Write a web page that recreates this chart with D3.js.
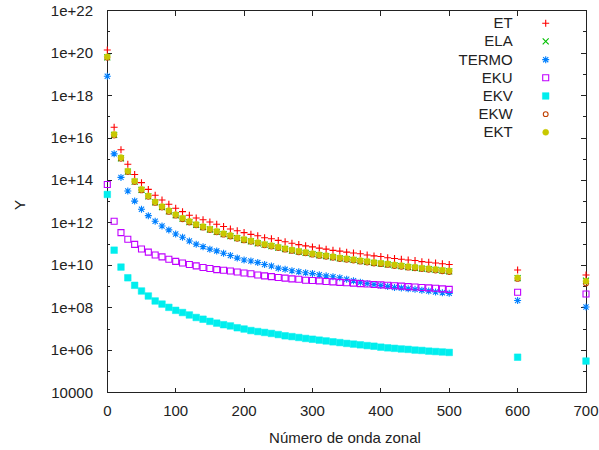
<!DOCTYPE html>
<html><head><meta charset="utf-8">
<script src="https://cdn.jsdelivr.net/npm/d3@7"></script>
<style>body{margin:0;background:#fff} text{font-family:"Liberation Sans",Arial,sans-serif;font-size:15px;fill:#222}</style>
</head><body><svg id="c" width="599" height="450"></svg>
<script>
const xValues = [0,10,20,30,40,50,60,70,80,90,100,110,120,130,140,150,160,170,180,190,200,210,220,230,240,250,260,270,280,290,300,310,320,330,340,350,360,370,380,390,400,410,420,430,440,450,460,470,480,490,500,600,700];

const ET = [1.4e20,3.2e16,2.8e15,5.8e14,1.9e14,7.9e13,3.8e13,2.0e13,1.2e13,7.6e12,4.9e12,3.4e12,2.3e12,1.7e12,1.4e12,1.1e12,8.7e11,6.8e11,5.2e11,4.3e11,3.5e11,2.9e11,2.5e11,2.0e11,1.8e11,1.5e11,1.3e11,1.1e11,9.5e10,8.3e10,7.4e10,6.5e10,5.8e10,5.1e10,4.7e10,4.2e10,3.8e10,3.5e10,3.1e10,2.8e10,2.6e10,2.3e10,2.1e10,1.95e10,1.8e10,1.7e10,1.5e10,1.4e10,1.3e10,1.2e10,1.1e10,6.0e9,3.5e9];
const ELA = [6.3e19,1.4e16,1.1e15,2.6e14,8.9e13,3.6e13,1.8e13,9.3e12,5.6e12,3.5e12,2.3e12,1.6e12,1.1e12,8.1e11,6.3e11,4.9e11,3.8e11,3.0e11,2.4e11,1.9e11,1.6e11,1.35e11,1.1e11,9.5e10,8.1e10,6.9e10,5.9e10,5.0e10,4.4e10,3.9e10,3.4e10,3.0e10,2.7e10,2.4e10,2.15e10,1.95e10,1.8e10,1.6e10,1.45e10,1.3e10,1.2e10,1.1e10,1.0e10,9.1e9,8.3e9,7.7e9,7.1e9,6.6e9,6.1e9,5.6e9,5.2e9,2.5e9,1.9e9];
const TERMO = [8.1e18,1.8e15,1.4e14,3.2e13,1.07e13,4.4e12,2.2e12,1.2e12,7.2e11,4.7e11,3.0e11,2.1e11,1.4e11,1.0e11,7.6e10,5.8e10,4.8e10,3.7e10,2.9e10,2.2e10,1.8e10,1.6e10,1.35e10,1.1e10,9.3e9,7.4e9,6.5e9,5.6e9,5.0e9,4.5e9,4.1e9,3.6e9,3.2e9,2.9e9,2.6e9,2.2e9,1.9e9,1.6e9,1.4e9,1.26e9,1.12e9,1.0e9,9.1e8,8.5e8,7.9e8,7.4e8,6.8e8,6.2e8,5.6e8,5.1e8,4.8e8,2.2e8,1.1e8];
const EKU = [6.5e13,1.2e12,3.5e11,1.7e11,9.8e10,5.9e10,4.2e10,3.1e10,2.5e10,1.95e10,1.55e10,1.3e10,1.1e10,9.5e9,7.9e9,7.1e9,6.3e9,5.9e9,5.4e9,4.9e9,4.4e9,4.0e9,3.5e9,3.2e9,2.95e9,2.7e9,2.5e9,2.3e9,2.2e9,2.0e9,1.95e9,1.86e9,1.74e9,1.66e9,1.58e9,1.51e9,1.45e9,1.38e9,1.32e9,1.26e9,1.2e9,1.15e9,1.1e9,1.05e9,1.0e9,9.5e8,9.1e8,8.7e8,8.3e8,7.8e8,7.4e8,5.4e8,4.5e8];
const EKV = [2.2e13,5.2e10,8.3e9,2.6e9,1.15e9,6.2e8,3.6e8,2.1e8,1.5e8,1.05e8,7.6e7,6.0e7,4.6e7,3.5e7,2.9e7,2.3e7,1.9e7,1.6e7,1.4e7,1.15e7,1.0e7,8.5e6,7.6e6,6.9e6,6.2e6,5.5e6,4.8e6,4.4e6,4.0e6,3.6e6,3.3e6,3.0e6,2.75e6,2.5e6,2.3e6,2.1e6,1.95e6,1.8e6,1.66e6,1.55e6,1.4e6,1.3e6,1.23e6,1.15e6,1.1e6,1.02e6,9.8e5,9.1e5,8.7e5,8.3e5,7.9e5,4.7e5,3.1e5];
const EKW = [6.0e19,1.3e16,1.05e15,2.5e14,8.4e13,3.4e13,1.7e13,8.8e12,5.3e12,3.3e12,2.2e12,1.5e12,1.05e12,7.7e11,6.0e11,4.6e11,3.6e11,2.8e11,2.3e11,1.8e11,1.5e11,1.28e11,1.06e11,8.8e10,7.7e10,6.5e10,5.5e10,4.8e10,4.1e10,3.7e10,3.2e10,2.8e10,2.55e10,2.3e10,2.0e10,1.85e10,1.7e10,1.5e10,1.36e10,1.23e10,1.14e10,1.05e10,9.4e9,8.6e9,7.8e9,7.3e9,6.7e9,6.2e9,5.7e9,5.3e9,4.9e9,2.3e9,1.4e9];
const EKT = [6.8e19,1.5e16,1.2e15,2.8e14,9.5e13,3.9e13,1.9e13,1.0e13,6.0e12,3.8e12,2.5e12,1.7e12,1.2e12,8.7e11,6.8e11,5.2e11,4.1e11,3.2e11,2.6e11,2.0e11,1.7e11,1.45e11,1.2e11,1.0e11,8.7e10,7.4e10,6.3e10,5.4e10,4.7e10,4.2e10,3.6e10,3.2e10,2.9e10,2.6e10,2.3e10,2.1e10,1.9e10,1.7e10,1.55e10,1.4e10,1.3e10,1.2e10,1.07e10,9.8e9,8.9e9,8.3e9,7.6e9,7.1e9,6.5e9,6.0e9,5.6e9,2.6e9,1.8e9];

const seriesNames = ["ET","ELA","TERMO","EKU","EKV","EKW","EKT"];
const seriesData = [ET, ELA, TERMO, EKU, EKV, EKW, EKT];
const seriesColors = ["#ff0000","#00c000","#0080ff","#c000ff","#00eeee","#c04000","#c8c800"];
const xTicks = [0,100,200,300,400,500,600,700];
const yTicks = [1e4,1e6,1e8,1e10,1e12,1e14,1e16,1e18,1e20,1e22];
const yTickLabels = ["10000","1e+06","1e+08","1e+10","1e+12","1e+14","1e+16","1e+18","1e+20","1e+22"];
const yMinorTicks = [1e5,1e7,1e9,1e11,1e13,1e15,1e17,1e19,1e21];

const L = 107.3, R = 586, T = 10.7, B = 392.7;
const svg = d3.select("#c");
const x = d3.scaleLinear().domain([0,700]).range([L,R]);
const y = d3.scaleLog().domain([1e4,1e22]).range([B,T]);

const axisColor = "#222";
// ticks
const g = svg.append("g").attr("stroke", axisColor).attr("stroke-width",1).attr("shape-rendering","crispEdges");
xTicks.forEach(v => {
  g.append("line").attr("x1",x(v)).attr("x2",x(v)).attr("y1",B).attr("y2",B-5);
  g.append("line").attr("x1",x(v)).attr("x2",x(v)).attr("y1",T).attr("y2",T+5);
});
yTicks.forEach(v => {
  g.append("line").attr("x1",L).attr("x2",L+5).attr("y1",y(v)).attr("y2",y(v));
  g.append("line").attr("x1",R).attr("x2",R-5).attr("y1",y(v)).attr("y2",y(v));
});
yMinorTicks.forEach(v => {
  g.append("line").attr("x1",L).attr("x2",L+3).attr("y1",y(v)).attr("y2",y(v));
  g.append("line").attr("x1",R).attr("x2",R-3).attr("y1",y(v)).attr("y2",y(v));
});
g.append("rect").attr("x",L).attr("y",T).attr("width",R-L).attr("height",B-T).attr("fill","none");

// tick labels
xTicks.forEach(v => {
  svg.append("text").attr("x",x(v)).attr("y",416).attr("text-anchor","middle").text(v);
});
yTicks.forEach((v,i) => {
  svg.append("text").attr("x",93).attr("y",y(v)+5).attr("text-anchor","end").text(yTickLabels[i]);
});
svg.append("text").attr("x",345).attr("y",443).attr("text-anchor","middle").text("Número de onda zonal");
svg.append("text").attr("transform","translate(25,205) rotate(-90)").attr("text-anchor","middle").text("Y");

// symbols
function sym(i){
  switch(i){
    case 0: return {d:"M-3.5,0H3.5M0,-3.5V3.5", fill:false};
    case 1: return {d:"M-3,-3L3,3M-3,3L3,-3", fill:false};
    case 2: return {d:"M-3.5,0H3.5M0,-3.5V3.5M-2.6,-2.6L2.6,2.6M-2.6,2.6L2.6,-2.6", fill:false};
    case 3: return {d:"M-3,-3H3V3H-3Z", fill:false};
    case 4: return {d:"M-3.3,-3.3H3.3V3.3H-3.3Z", fill:true};
    case 5: return {d:"M2.4,0A2.4,2.4 0 1,1 -2.4,0A2.4,2.4 0 1,1 2.4,0Z", fill:false};
    case 6: return {d:"M3,0A3,3 0 1,1 -3,0A3,3 0 1,1 3,0Z", fill:true};
  }
}
seriesData.forEach((arr, si) => {
  const s = sym(si);
  const col = seriesColors[si];
  svg.append("g").selectAll("path").data(arr).join("path")
    .attr("transform",(d,j)=>`translate(${x(xValues[j])},${y(d)})`)
    .attr("d", s.d)
    .attr("fill", s.fill ? col : "none")
    .attr("stroke", col)
    .attr("stroke-width", s.fill ? 0.5 : 1.1);
});

// legend
seriesNames.forEach((n, si) => {
  const yy = 23.3 + si*18.17;
  svg.append("text").attr("x",512.7).attr("y",yy+5).attr("text-anchor","end").text(n);
  const s = sym(si);
  svg.append("path").attr("transform",`translate(545.7,${yy})`).attr("d",s.d)
    .attr("fill", s.fill ? seriesColors[si] : "none").attr("stroke", seriesColors[si])
    .attr("stroke-width", s.fill ? 0.5 : 1.1);
});
</script>
</body></html>
